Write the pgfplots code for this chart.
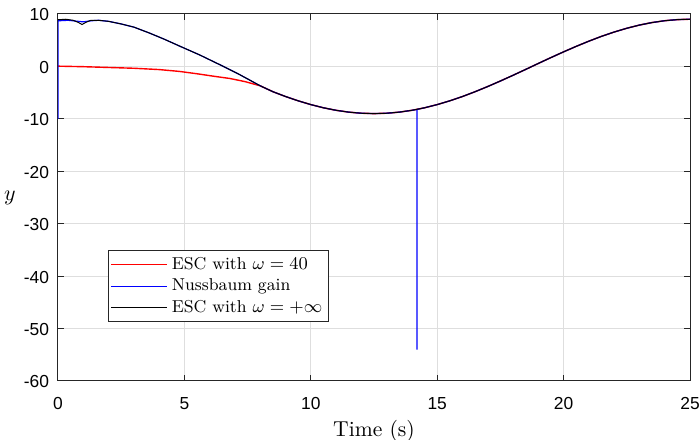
\documentclass[border=0pt]{standalone}
\usepackage{pgfplots}
\pgfplotsset{compat=1.18}
\usepackage{fontspec}
\newfontfamily\ticksans{Liberation Sans}
\definecolor{gridgray}{RGB}{222,222,222}
\definecolor{axgray}{RGB}{38,38,38}
\begin{document}
\begin{tikzpicture}
\begin{axis}[
  scale only axis,
  width=316pt, height=183.5pt,
  xmin=0, xmax=25, ymin=-60, ymax=10,
  xtick={0,5,10,15,20,25},
  xticklabels={0,5,10,15,20,25},
  ytick={-60,-50,-40,-30,-20,-10,0,10},
  yticklabels={-60,-50,-40,-30,-20,-10,0,10},
  tick label style={font=\ticksans\fontsize{8.7pt}{10pt}\selectfont, text=black},
  xticklabel style={yshift=-4.5pt},
  yticklabel style={xshift=-1pt, yshift=-0.5pt},
  grid=major,
  major grid style={gridgray, line width=0.5pt},
  axis line style={axgray, line width=0.5pt},
  tick style={axgray, line width=0.5pt},
  tick align=inside,
  major tick length=3pt,
  xlabel={Time (s)},
  ylabel={$y$},
  label style={font=\fontsize{10.8pt}{12pt}\selectfont},
  xlabel style={yshift=1.5pt},
  ylabel style={rotate=-90, at={(axis description cs:0,0.5)}, anchor=center, xshift=-24pt},
  legend style={at={(0.079,0.161)}, anchor=south west, font=\fontsize{8.6pt}{10pt}\selectfont,
    draw=axgray, line width=0.5pt, inner sep=1.2pt, row sep=-0.8pt, cells={anchor=west}},
  legend image code/.code={\draw[#1, line width=0.5pt] (0pt,0pt) -- (28pt,0pt);},
]
\addplot[red, line width=0.7pt] coordinates {
(0,0.05) (1,-0.05) (2,-0.2) (3,-0.35) (4,-0.6) (4.8,-0.95) (5.5,-1.4) (6.2,-1.9) (6.8,-2.3) (7.4,-2.9) (8,-3.7)
(8.5,-4.82) (9,-5.74) (9.5,-6.56) (10,-7.28) (10.5,-7.89) (11,-8.37) (11.5,-8.72) (12,-8.93) (12.5,-9.0)
(13,-8.93) (13.5,-8.72) (14,-8.37) (14.5,-7.89) (15,-7.28) (15.5,-6.56) (16,-5.74) (16.5,-4.82) (17,-3.83)
(17.5,-2.78) (18,-1.69) (18.5,-0.57) (19,0.57) (19.5,1.69) (20,2.78) (20.5,3.83) (21,4.82) (21.5,5.74)
(22,6.56) (22.5,7.28) (23,7.89) (23.5,8.37) (24,8.72) (24.5,8.93) (25,9.0)
};
\addlegendentry{ESC with $\omega=40$}
\addplot[blue, line width=0.6pt] coordinates {
(0,-10) (0,8.7) (0.4,8.8) (0.8,8.6) (1.0,8.5) (1.3,8.7) (1.6,8.8) (2.0,8.6) (2.5,8.1) (3,7.5) (3.6,6.4) (4.2,5.2) (4.8,3.9)
(5.6,2.2) (6.5,0.1) (7.2,-1.6) (8,-3.7)
(8.5,-4.82) (9,-5.74) (9.5,-6.56) (10,-7.28) (10.5,-7.89) (11,-8.37) (11.5,-8.72) (12,-8.93) (12.5,-9.0)
(13,-8.93) (13.5,-8.72) (14,-8.37) (14.2,-8.2) (14.2,-54) (14.2,-8.2) (14.5,-7.89) (15,-7.28) (15.5,-6.56) (16,-5.74) (16.5,-4.82) (17,-3.83)
(17.5,-2.78) (18,-1.69) (18.5,-0.57) (19,0.57) (19.5,1.69) (20,2.78) (20.5,3.83) (21,4.82) (21.5,5.74)
(22,6.56) (22.5,7.28) (23,7.89) (23.5,8.37) (24,8.72) (24.5,8.93) (25,9.0)
};
\addlegendentry{Nussbaum gain}
\addplot[black, line width=0.5pt] coordinates {
(0,8.9) (0.3,9.0) (0.6,8.8) (0.8,8.4) (0.95,8.0) (1.1,8.4) (1.3,8.8) (1.6,8.8) (2.0,8.6) (2.5,8.1) (3,7.5) (3.6,6.4) (4.2,5.2) (4.8,3.9)
(5.6,2.2) (6.5,0.1) (7.2,-1.6) (8,-3.7)
(8.5,-4.82) (9,-5.74) (9.5,-6.56) (10,-7.28) (10.5,-7.89) (11,-8.37) (11.5,-8.72) (12,-8.93) (12.5,-9.0)
(13,-8.93) (13.5,-8.72) (14,-8.37) (14.5,-7.89) (15,-7.28) (15.5,-6.56) (16,-5.74) (16.5,-4.82) (17,-3.83)
(17.5,-2.78) (18,-1.69) (18.5,-0.57) (19,0.57) (19.5,1.69) (20,2.78) (20.5,3.83) (21,4.82) (21.5,5.74)
(22,6.56) (22.5,7.28) (23,7.89) (23.5,8.37) (24,8.72) (24.5,8.93) (25,9.0)
};
\addlegendentry{ESC with $\omega=+\infty$}
\end{axis}
\pgfresetboundingbox
\path (current axis.south west) ++(-29pt,-29.5pt) coordinate (bbsw);
\path (current axis.north east) ++(5pt,7pt) coordinate (bbne);
\path (bbsw) rectangle (bbne);
\end{tikzpicture}
\end{document}
